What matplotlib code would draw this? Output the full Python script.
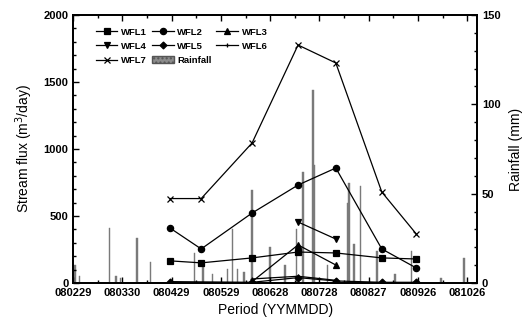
import matplotlib
matplotlib.use("Agg")
import matplotlib.pyplot as plt
from matplotlib.patches import Patch
import numpy as np
import datetime as dt

plt.rcParams['font.family'] = ['Liberation Sans', 'DejaVu Sans']

# sampling dates of the stream flux measurements
sample_dates = ['2008-04-28', '2008-05-17', '2008-06-17', '2008-07-15',
                '2008-08-07', '2008-09-04', '2008-09-25']
nan = np.nan
wfl1 = [165, 150, 187, 231, 224, 187, 179]
wfl2 = [410, 254, 522, 731, 858, 254, 112]
wfl3 = [nan, nan, 10, 284, 134, nan, nan]
wfl4 = [nan, nan, nan, 455, 328, nan, nan]
wfl5 = [10, nan, 5, 40, 15, 5, 5]
wfl6 = [nan, nan, 30, 50, 20, nan, nan]
wfl7 = [630, 630, 1045, 1776, 1642, 679, 366]

# daily rainfall (mm)
rain_dates = ['2008-03-01', '2008-03-04', '2008-03-22', '2008-03-26', '2008-03-29',
              '2008-04-08', '2008-04-16', '2008-05-13', '2008-05-18', '2008-05-24',
              '2008-06-02', '2008-06-05', '2008-06-08', '2008-06-12', '2008-06-17',
              '2008-06-28', '2008-07-07', '2008-07-14', '2008-07-18', '2008-07-24',
              '2008-07-25', '2008-08-02', '2008-08-14', '2008-08-15', '2008-08-18',
              '2008-08-22', '2008-09-01', '2008-09-12', '2008-09-22', '2008-10-10',
              '2008-10-24']
rain_mm = [10, 4, 31, 4, 3,
           25, 12, 17, 12, 5,
           8, 30, 8, 6, 52,
           20, 10, 30, 62, 108,
           66, 10, 45, 56, 22,
           54, 18, 5, 18, 3,
           14]

xtick_labels = ['080229', '080330', '080429', '080529', '080628',
                '080728', '080827', '080926', '081026']

to_dt = lambda s: dt.datetime.strptime(s, '%Y-%m-%d')
sx = [to_dt(d) for d in sample_dates]
rx = [to_dt(d) for d in rain_dates]
tick_x = [dt.datetime(2008, 2, 29) + dt.timedelta(days=30 * i) for i in range(9)]
minor_x = [dt.datetime(2008, 2, 29) + dt.timedelta(days=15 * i) for i in range(17)]

fig, ax = plt.subplots(figsize=(5.3, 3.26), dpi=100)
fig.subplots_adjust(left=0.138, right=0.9, bottom=0.132, top=0.954)
ax2 = ax.twinx()

# rainfall on the right axis
ax2.bar(rx, rain_mm, width=0.9, color='#7a7a7a', edgecolor='#7a7a7a', linewidth=0.3)
ax2.set_ylim(0, 150)
ax2.set_yticks([0, 50, 100, 150])
ax2.set_yticks(np.arange(0, 151, 10), minor=True)
ax2.set_ylabel('Rainfall (mm)', fontsize=10, labelpad=6)

ax.set_zorder(ax2.get_zorder() + 1)
ax.patch.set_visible(False)

series = [('WFL1', wfl1, 's', 4), ('WFL2', wfl2, 'o', 4.5), ('WFL3', wfl3, '^', 4.5),
          ('WFL4', wfl4, 'v', 4.5), ('WFL5', wfl5, 'D', 3.5), ('WFL6', wfl6, '+', 3.5),
          ('WFL7', wfl7, 'x', 4.5)]
h = {}
for name, vals, mk, ms in series:
    v = np.array(vals, dtype=float)
    m = ~np.isnan(v)
    xs = [x for x, k in zip(sx, m) if k]
    h[name], = ax.plot(xs, v[m], color='black', marker=mk, markersize=ms,
                       linewidth=0.9, markeredgewidth=0.9, label=name)
h['Rainfall'] = Patch(facecolor='#8c8c8c', edgecolor='#555555', hatch='....', label='Rainfall')

ax.set_ylim(0, 2000)
ax.set_yticks([0, 500, 1000, 1500, 2000])
ax.set_yticks(np.arange(0, 2001, 100), minor=True)
ax.set_xlim(dt.datetime(2008, 2, 29), dt.datetime(2008, 11, 1))
ax.set_xticks(tick_x)
ax.set_xticklabels(xtick_labels)
ax.set_xticks(minor_x, minor=True)
ax.set_ylabel('Stream flux (m$^3$/day)', fontsize=10, labelpad=6)
ax.set_xlabel('Period (YYMMDD)', fontsize=10, labelpad=4)

for a in (ax, ax2):
    a.tick_params(which='both', direction='in', labelsize=8, width=1)
    a.tick_params(which='major', length=4)
    a.tick_params(which='minor', length=2)
    for lab in a.get_xticklabels() + a.get_yticklabels():
        lab.set_fontweight('bold')
    for sp in a.spines.values():
        sp.set_linewidth(1.3)
ax.tick_params(axis='x', which='both', top=True)

# legend filled row by row: column-major order for ncol=3
order = ['WFL1', 'WFL4', 'WFL7', 'WFL2', 'WFL5', 'Rainfall', 'WFL3', 'WFL6']
ax.legend(handles=[h[k] for k in order], ncol=3, frameon=False, loc='upper left',
          bbox_to_anchor=(0.035, 0.985), prop={'weight': 'bold', 'size': 6.8},
          handlelength=2.3, columnspacing=0.5, labelspacing=0.55, handletextpad=0.4)

fig.savefig('out.png', dpi=100)
